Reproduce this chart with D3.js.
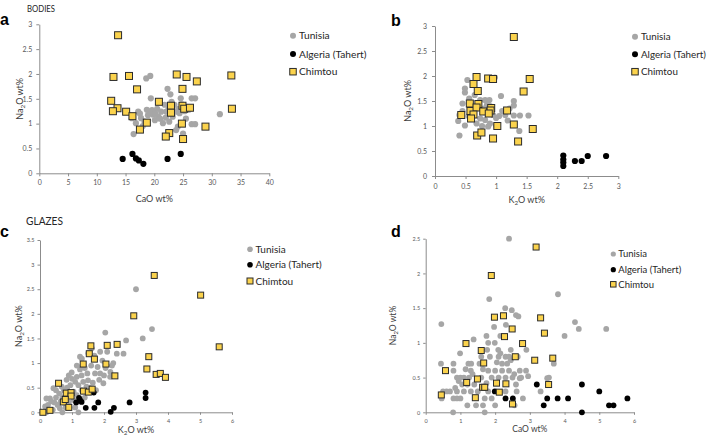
<!DOCTYPE html>
<html><head><meta charset="utf-8">
<script src="https://cdn.jsdelivr.net/npm/d3@7"></script>
<style>body{margin:0;background:#fff}svg{display:block}</style>
</head><body><svg id="chart" width="708" height="440"></svg>
<script>
// ---------- DATA ----------
const seriesNames = ["Tunisia", "Algeria (Tahert)", "Chimtou"];

// Panel a: BODIES, CaO wt% vs Na2O wt%
const bodiesCaO_Tunisia = [[18.6,1.91],[19.3,1.96],[22.3,1.70],[22.8,1.59],[19.4,1.51],[24.6,1.51],[26.5,1.51],[27.1,1.51],[17.2,1.24],[18.7,1.28],[19.6,1.27],[20.5,1.30],[18.9,1.17],[19.8,1.18],[20.7,1.14],[20.1,1.07],[16.1,1.11],[16.8,1.01],[21.5,1.01],[21.2,1.24],[21.8,1.38],[23.5,1.38],[23.8,1.24],[24.4,1.21],[23.2,1.14],[24.1,0.94],[16.4,0.79],[26.5,0.99],[27.1,0.99],[23.8,0.87],[25.0,0.80],[31.4,1.19],[17.7,1.11],[18.3,1.04],[22.6,1.04],[22.1,1.24],[23.0,1.44],[24.8,1.39],[20.9,1.44],[20.2,1.20],[21.0,1.10],[22.0,1.12],[19.2,1.22],[17.5,1.20],[25.3,1.25],[26.0,1.28],[24.2,1.30],[22.5,1.30],[18.0,0.95],[25.5,1.10]];
const bodiesCaO_Algeria = [[14.5,0.29],[16.2,0.39],[16.8,0.30],[17.3,0.26],[18.1,0.19],[22.3,0.29],[24.6,0.39]];
const bodiesCaO_Chimtou = [[13.7,2.78],[12.9,1.94],[15.6,1.96],[17.0,1.69],[23.9,1.99],[25.6,1.94],[27.4,1.85],[33.4,1.97],[24.9,1.70],[12.5,1.46],[13.6,1.31],[12.8,1.25],[15.1,1.24],[16.2,1.15],[20.8,1.44],[22.9,1.36],[22.9,1.22],[24.9,1.36],[25.2,1.30],[26.2,1.32],[33.5,1.30],[18.7,1.02],[17.5,0.88],[24.8,1.00],[28.9,0.94],[22.6,0.81],[22.0,0.74],[25.0,0.69]];

// Panel b: BODIES, K2O wt% vs Na2O wt%
const bodiesK2O_Tunisia = [[0.40,0.81],[0.38,1.10],[0.40,1.22],[0.49,1.01],[0.53,1.92],[0.49,1.75],[0.49,1.67],[0.56,1.55],[0.74,1.52],[0.82,1.52],[0.89,1.52],[1.08,1.60],[0.98,1.97],[1.29,1.50],[1.29,1.41],[1.39,1.21],[1.53,1.21],[1.29,1.21],[1.38,0.90],[1.19,1.11],[1.05,1.20],[1.00,1.16],[0.95,1.22],[0.74,1.15],[0.82,1.12],[0.68,1.05],[0.77,1.00],[0.87,0.99],[1.00,1.01],[0.63,1.35],[0.45,1.30],[0.45,1.45],[0.60,1.40],[0.80,1.35],[0.85,1.42],[1.10,1.30],[1.15,1.22],[0.90,1.05],[0.55,1.20],[1.22,1.35],[0.65,1.62],[0.90,1.40]];
const bodiesK2O_Algeria = [[2.1,0.41],[2.1,0.33],[2.1,0.27],[2.1,0.20],[2.29,0.30],[2.40,0.30],[2.50,0.40],[2.80,0.40]];
const bodiesK2O_Chimtou = [[1.29,2.78],[0.68,1.98],[0.87,1.95],[0.95,1.94],[1.55,1.94],[0.63,1.84],[0.70,1.70],[1.45,1.69],[0.57,1.45],[0.71,1.44],[0.43,1.22],[0.58,1.30],[0.68,1.37],[0.63,1.23],[0.59,1.15],[0.79,1.29],[0.92,1.36],[0.91,1.31],[0.88,1.25],[1.18,1.31],[1.29,1.03],[1.02,1.00],[1.60,0.94],[0.69,0.81],[0.76,0.87],[0.95,0.75],[1.36,0.69]];

// Panel c: GLAZES, K2O wt% vs Na2O wt%
const glazesK2O_Tunisia = [[3.0,2.5],[3.5,1.69],[3.21,1.50],[2.04,1.62],[2.69,1.46],[2.61,1.19],[2.40,1.19],[2.29,1.00],[2.10,1.23],[1.88,1.23],[1.31,1.09],[1.48,0.79],[1.72,0.79],[1.88,0.79],[2.19,0.72],[0.99,0.81],[1.15,0.72],[0.83,0.66],[0.68,0.52],[0.42,0.49],[0.31,0.28],[0.16,0.12],[1.20,0.0],[0.70,0.0],[1.51,1.20],[1.25,1.13],[1.60,0.95],[1.40,0.90],[1.25,0.87],[1.10,0.62],[0.95,0.55],[0.85,0.50],[0.75,0.45],[0.60,0.38],[0.50,0.30],[0.45,0.20],[0.55,0.15],[0.62,0.08],[0.40,0.05],[0.20,0.0],[1.00,0.68],[1.20,0.55],[1.35,0.62],[1.50,0.65],[1.65,0.60],[1.85,0.66],[2.00,0.75],[2.20,0.82],[2.05,0.90],[1.80,0.92],[1.95,1.05],[1.70,1.15],[1.15,0.95],[1.05,0.42],[1.15,0.35],[1.30,0.45],[0.90,0.20],[1.05,0.25],[0.80,0.10],[0.70,0.30],[0.65,0.22],[1.40,0.30],[1.55,0.50],[1.75,0.45],[1.98,0.59],[0.50,0.45],[0.35,0.22],[1.10,0.10],[2.25,0.95],[1.62,1.30],[0.90,0.75],[1.30,0.75],[1.45,0.52],[0.25,0.15],[0.20,0.28]];
const glazesK2O_Algeria = [[1.13,0.20],[1.22,0.29],[1.30,0.21],[1.25,0.25],[1.43,0.09],[1.68,0.40],[1.70,0.09],[1.82,0.20],[2.21,0.01],[2.31,0.09],[2.80,0.20],[3.30,0.40],[3.30,0.29]];
const glazesK2O_Chimtou = [[3.57,2.78],[5.02,2.38],[2.93,1.96],[5.60,1.33],[1.59,1.35],[2.10,1.36],[2.41,1.38],[1.54,1.19],[1.70,1.08],[1.35,0.98],[2.06,0.98],[3.40,1.13],[2.34,0.74],[3.34,0.88],[3.63,0.77],[3.76,0.79],[3.92,0.71],[0.58,0.59],[1.36,0.43],[1.51,0.41],[1.63,0.47],[0.82,0.39],[0.97,0.40],[0.97,0.33],[0.73,0.21],[0.79,0.26],[0.90,0.10],[0.31,0.04],[0.09,0.0]];

// Panel d: GLAZES, CaO wt% vs Na2O wt%
const glazesCaO_Tunisia = [[2.40,2.50],[3.81,1.70],[1.83,1.63],[2.29,1.50],[2.48,1.47],[2.67,1.38],[0.45,1.27],[4.30,1.30],[4.41,1.20],[5.20,1.20],[4.00,1.10],[1.97,1.23],[2.31,1.26],[1.38,1.05],[0.99,0.85],[1.80,1.00],[1.99,1.00],[1.77,0.90],[2.09,0.90],[2.90,0.90],[3.69,0.70],[3.50,0.49],[3.31,0.30],[0.44,0.70],[0.80,0.70],[1.23,0.70],[1.31,0.70],[0.46,0.20],[0.79,0.00],[1.70,0.00],[1.20,0.10],[2.56,0.10],[2.80,0.20],[2.89,0.60],[2.71,0.60],[2.71,0.49],[1.60,0.80],[1.85,0.80],[2.10,0.80],[2.30,0.80],[2.45,0.75],[2.65,0.80],[2.35,0.70],[2.20,0.70],[2.00,0.60],[1.80,0.60],[1.90,0.50],[2.10,0.50],[2.30,0.50],[2.50,0.50],[2.40,0.60],[2.60,0.40],[1.60,0.50],[1.40,0.40],[1.20,0.40],[1.05,0.40],[0.90,0.50],[1.00,0.50],[1.10,0.50],[1.25,0.50],[1.30,0.60],[0.80,0.60],[0.60,0.30],[0.70,0.30],[0.90,0.30],[1.10,0.30],[1.30,0.30],[1.50,0.30],[1.80,0.30],[2.30,0.30],[0.80,0.20],[0.90,0.20],[1.00,0.20],[1.70,0.20],[1.90,0.20],[2.00,0.10],[0.50,0.30],[2.40,0.80],[2.20,0.60],[1.55,0.70],[1.65,0.62],[2.05,0.72],[0.95,0.45],[1.15,0.62],[1.75,0.42],[2.55,0.55],[2.75,0.50],[2.95,0.52],[3.55,0.50],[2.62,0.30],[1.45,0.10],[1.65,0.10],[2.15,0.85],[1.75,1.10],[2.15,1.10],[2.60,1.40],[0.85,0.35],[2.45,0.90],[1.35,0.55]];
const glazesCaO_Algeria = [[3.20,0.40],[4.50,0.40],[1.99,0.30],[5.00,0.30],[2.30,0.20],[2.51,0.20],[3.50,0.20],[3.80,0.20],[4.10,0.20],[5.81,0.20],[3.40,0.10],[5.28,0.10],[5.41,0.10],[4.50,0.0]];
const glazesCaO_Chimtou = [[3.18,2.38],[1.89,1.97],[1.98,1.37],[2.24,1.39],[3.31,1.36],[2.49,1.20],[3.42,1.14],[2.27,1.09],[1.16,0.99],[2.79,0.99],[1.60,0.89],[2.58,0.80],[3.66,0.78],[3.14,0.75],[1.67,0.71],[0.57,0.60],[1.18,0.43],[1.49,0.48],[1.64,0.36],[1.70,0.36],[2.04,0.42],[2.31,0.41],[3.54,0.40],[0.45,0.25],[1.43,0.21],[2.12,0.29],[2.50,0.12]];

// Tick values
const ticksCaO_bodies = [0,5,10,15,20,25,30,35,40];
const ticksK2O_bodies = [0,0.5,1,1.5,2,2.5,3];
const ticksNa2O_bodies = [0,0.5,1,1.5,2,2.5,3];
const ticksK2O_glazes = [0,1,2,3,4,5,6];
const ticksNa2O_glazesC = [0,0.5,1,1.5,2,2.5,3,3.5];
const ticksCaO_glazes = [0,1,2,3,4,5,6];
const ticksNa2O_glazesD = [0,0.5,1,1.5,2,2.5];

// ---------- DRAW ----------
const svg = d3.select("#chart");
const FONT = "Lato, 'Open Sans', sans-serif";
const GREY = "#a6a6a6", BLACK = "#000", GOLD = "#fbd34d", AXIS = "#8c8c8c";
const fmt = d3.format("~g");

function subLabel(sel, before, after, fs){
  sel.append("tspan").text(before);
  sel.append("tspan").attr("font-size", fs*0.7).attr("dy", fs*0.25).text("2");
  sel.append("tspan").attr("dy", -fs*0.25).text(after);
}

function panel(c){
  const g = svg.append("g");
  const x = d3.scaleLinear().domain([c.xTicks[0], c.xTicks[c.xTicks.length-1]]).range(c.xRange);
  const y = d3.scaleLinear().domain([c.yTicks[0], c.yTicks[c.yTicks.length-1]]).range(c.yRange);

  const gx = g.append("g").attr("transform", `translate(0,${c.yRange[0]})`)
    .call(d3.axisBottom(x).tickValues(c.xTicks).tickFormat(fmt).tickSize(c.tick).tickSizeOuter(0).tickPadding(c.xPad));
  const gy = g.append("g").attr("transform", `translate(${c.xRange[0]},0)`)
    .call(d3.axisLeft(y).tickValues(c.yTicks).tickFormat(fmt).tickSize(c.tick).tickSizeOuter(0).tickPadding(c.yPad));
  [gx, gy].forEach(a => {
    a.select(".domain").attr("stroke", AXIS).attr("stroke-width", 1);
    a.selectAll(".tick line").attr("stroke", AXIS);
    a.selectAll(".tick text").attr("fill", "#595959").attr("font-family", FONT).attr("font-size", c.tickFs);
  });

  // axis titles
  const xt = g.append("text").attr("x", (c.xRange[0]+c.xRange[1])/2).attr("y", c.xTitleY)
    .attr("text-anchor", "middle").attr("font-family", FONT).attr("font-size", c.titleFs).attr("fill", "#404040");
  if (c.xTitle === "K2O") subLabel(xt, "K", "O wt%", c.titleFs); else xt.text("CaO wt%");
  const yc = (c.yRange[0]+c.yRange[1])/2;
  const yt = g.append("text").attr("transform", `translate(${c.yTitleX},${yc}) rotate(-90)`)
    .attr("text-anchor", "middle").attr("font-family", FONT).attr("font-size", c.titleFs).attr("fill", "#404040");
  subLabel(yt, "Na", "O wt%", c.titleFs);

  // marks
  g.append("g").selectAll("circle").data(c.tun).join("circle")
    .attr("cx", d => x(d[0])).attr("cy", d => y(d[1])).attr("r", c.r).attr("fill", GREY);
  g.append("g").selectAll("circle").data(c.alg).join("circle")
    .attr("cx", d => x(d[0])).attr("cy", d => y(d[1])).attr("r", c.r).attr("fill", BLACK);
  g.append("g").selectAll("rect").data(c.chi).join("rect")
    .attr("x", d => x(d[0]) - c.s/2).attr("y", d => y(d[1]) - c.s/2)
    .attr("width", c.s).attr("height", c.s).attr("fill", GOLD).attr("stroke", "#2b2b2b").attr("stroke-width", 1);

  // legend
  const lg = g.append("g").attr("font-family", FONT).attr("font-size", c.legFs).attr("fill", "#262626");
  seriesNames.forEach((name, i) => {
    const ly = c.legY[i];
    if (i === 0) lg.append("circle").attr("cx", c.legX).attr("cy", ly).attr("r", c.lr).attr("fill", GREY);
    if (i === 1) lg.append("circle").attr("cx", c.legX).attr("cy", ly).attr("r", c.lr).attr("fill", BLACK);
    if (i === 2) lg.append("rect").attr("x", c.legX - c.ls/2).attr("y", ly - c.ls/2).attr("width", c.ls).attr("height", c.ls)
      .attr("fill", GOLD).attr("stroke", "#2b2b2b").attr("stroke-width", 1);
    lg.append("text").attr("x", c.legX + c.legDx).attr("y", ly).attr("dy", "0.35em").text(name);
  });

  // panel letter
  svg.append("text").attr("x", c.letterX).attr("y", c.letterY).attr("font-family", "'Liberation Sans', Arial, sans-serif")
    .attr("font-weight", "bold").attr("font-size", 16).attr("fill", "#000").text(c.letter);
}

panel({letter:"a", letterX:0, letterY:25, xTicks:ticksCaO_bodies, yTicks:ticksNa2O_bodies,
  xRange:[39.3,269.3], yRange:[173.3,24.3], tick:3, xPad:4, yPad:4, tickFs:7, titleFs:9,
  xTitle:"CaO", xTitleY:202, yTitleX:22.5, tun:bodiesCaO_Tunisia, alg:bodiesCaO_Algeria, chi:bodiesCaO_Chimtou,
  r:3.1, s:7, legX:293, legY:[35.7,54,71.7], legDx:6, lr:3, ls:6.5, legFs:10.2});
panel({letter:"b", letterX:391, letterY:26, xTicks:ticksK2O_bodies, yTicks:ticksNa2O_bodies,
  xRange:[435,618.3], yRange:[176,26], tick:3, xPad:5.5, yPad:5, tickFs:7, titleFs:9,
  xTitle:"K2O", xTitleY:203, yTitleX:411, tun:bodiesK2O_Tunisia, alg:bodiesK2O_Algeria, chi:bodiesK2O_Chimtou,
  r:3.1, s:7, legX:635, legY:[36.7,54.3,71.7], legDx:6, lr:3, ls:6.5, legFs:9.8});
panel({letter:"c", letterX:0, letterY:237, xTicks:ticksK2O_glazes, yTicks:ticksNa2O_glazesC,
  xRange:[40,232], yRange:[412.3,240], tick:2.5, xPad:4.5, yPad:3, tickFs:5.5, titleFs:9,
  xTitle:"K2O", xTitleY:433, yTitleX:22, tun:glazesK2O_Tunisia, alg:glazesK2O_Algeria, chi:glazesK2O_Chimtou,
  r:2.9, s:6, legX:250, legY:[249.3,264.7,281], legDx:5.5, lr:2.8, ls:6, legFs:10});
panel({letter:"d", letterX:391, letterY:237, xTicks:ticksCaO_glazes, yTicks:ticksNa2O_glazesD,
  xRange:[425.7,634], yRange:[412.3,238.7], tick:2.5, xPad:4, yPad:3, tickFs:5.5, titleFs:8.5,
  xTitle:"CaO", xTitleY:432, yTitleX:396, tun:glazesCaO_Tunisia, alg:glazesCaO_Algeria, chi:glazesCaO_Chimtou,
  r:2.9, s:6, legX:613.3, legY:[254,269.7,284.3], legDx:5, lr:2.6, ls:5.5, legFs:9.5});

// section titles
svg.append("text").attr("x", 27).attr("y", 11.5).attr("font-family", FONT).attr("font-size", 10)
  .attr("fill", "#262626").attr("textLength", 28).attr("lengthAdjust", "spacingAndGlyphs").text("BODIES");
svg.append("text").attr("x", 26).attr("y", 225).attr("font-family", FONT).attr("font-size", 11)
  .attr("fill", "#262626").attr("textLength", 37).attr("lengthAdjust", "spacingAndGlyphs").text("GLAZES");
</script></body></html>
